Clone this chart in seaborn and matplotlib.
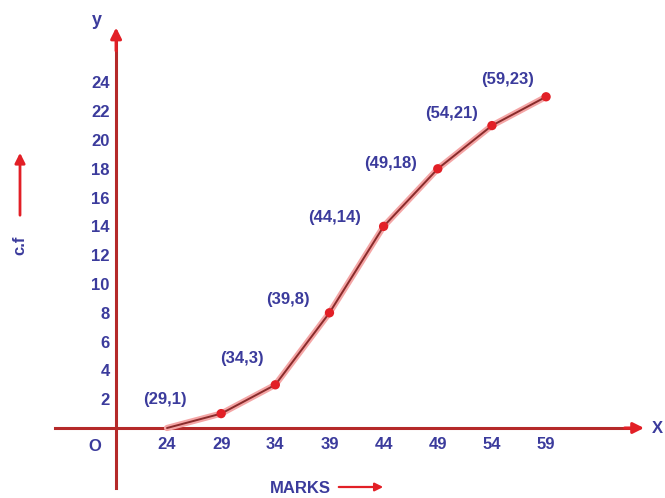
import matplotlib
matplotlib.use("Agg")
import matplotlib.pyplot as plt
import seaborn as sns
import pandas as pd

# Ogive data (upper class limit vs cumulative frequency)
marks = [24, 29, 34, 39, 44, 49, 54, 59]
cum_freq = [0, 1, 3, 8, 14, 18, 21, 23]
x_ticks = [24, 29, 34, 39, 44, 49, 54, 59]
y_ticks = [2, 4, 6, 8, 10, 12, 14, 16, 18, 20, 22, 24]

df = pd.DataFrame({"marks": marks, "cf": cum_freq})
points = df[df["cf"] > 0]

sns.set_style("white")
plt.rcParams["font.family"] = ["Liberation Sans", "DejaVu Sans"]

BLUE = "#3b3b9c"
AXIS_RED = "#b52a2a"
LINE_RED = "#8a2b2b"
DOT_RED = "#e21f26"

fig = plt.figure(figsize=(6.65, 4.98), dpi=100)
ax = fig.add_axes([0, 0, 1, 1])
ax.set_xlim(8.58, 69.98)
ax.set_ylim(-4.86, 29.72)
x0 = 19.3  # where the y axis crosses

# ogive line with a light halo, then the points
sns.lineplot(data=df, x="marks", y="cf", ax=ax, color="#f4a5a5", lw=4.5, zorder=3)
sns.lineplot(data=df, x="marks", y="cf", ax=ax, color=LINE_RED, lw=1.4, zorder=4)
sns.scatterplot(data=points, x="marks", y="cf", ax=ax, color=DOT_RED, s=45,
                edgecolor="none", zorder=5)

# point labels
offsets = [(-34, 14), (-12, 26), (-20, 13), (-23, 9), (-21, 5), (-14, 12), (-12, 17)]
for (mx, cf), (dx, dy) in zip(zip(points["marks"], points["cf"]), offsets):
    ax.annotate(f"({mx},{cf})", (mx, cf), xytext=(dx, dy), textcoords="offset pixels",
                ha="right", va="center", color=BLUE, fontsize=12, fontweight="bold")

# axes through the origin
for side in ["top", "right"]:
    ax.spines[side].set_visible(False)
ax.spines["left"].set_position(("data", x0))
ax.spines["bottom"].set_position(("data", 0))
ax.spines["left"].set_bounds(-4.17, 27.0)
ax.spines["bottom"].set_bounds(13.66, 67.0)
for side in ["left", "bottom"]:
    ax.spines[side].set_color(AXIS_RED)
    ax.spines[side].set_linewidth(2.2)
    ax.spines[side].set_zorder(2)

ax.annotate("", xy=(x0, 28.0), xytext=(x0, 26.0),
            arrowprops=dict(arrowstyle="-|>", color=DOT_RED, lw=2.2, mutation_scale=16))
ax.annotate("", xy=(68.3, 0), xytext=(66.0, 0),
            arrowprops=dict(arrowstyle="-|>", color=DOT_RED, lw=2.2, mutation_scale=16))

ax.set_xticks(x_ticks)
ax.set_xticks([64], minor=True)
ax.set_yticks(y_ticks)
ax.tick_params(axis="x", which="both", direction="inout", length=9, width=1.6,
               color="#2a2a2a", labelcolor=BLUE, labelsize=12, pad=2)
ax.tick_params(axis="y", direction="inout", length=7, width=1.6,
               color="#2a2a2a", labelcolor=BLUE, labelsize=12, pad=1)
for lab in ax.get_xticklabels() + ax.get_yticklabels():
    lab.set_fontweight("bold")
ax.set_xlabel("")
ax.set_ylabel("")

# axis names and side arrows
tf = ax.transAxes
ax.text(97 / 665, 1 - 20 / 498, "y", transform=tf, color=BLUE, fontsize=13,
        fontweight="bold", ha="center", va="center")
ax.text(657 / 665, 1 - 428 / 498, "X", transform=tf, color=BLUE, fontsize=12,
        fontweight="bold", ha="center", va="center")
ax.text(95 / 665, 1 - 446 / 498, "O", transform=tf, color=BLUE, fontsize=12,
        fontweight="bold", ha="center", va="center")
ax.text(20 / 665, 1 - 245 / 498, "c.f", transform=tf, color=BLUE, fontsize=12,
        fontweight="bold", ha="center", va="center", rotation=90)
ax.annotate("", xy=(20 / 665, 1 - 150 / 498), xytext=(20 / 665, 1 - 218 / 498),
            xycoords=tf, textcoords=tf,
            arrowprops=dict(arrowstyle="-|>", color=DOT_RED, lw=2, mutation_scale=15))
ax.text(300 / 665, 1 - 488 / 498, "MARKS", transform=tf, color=BLUE, fontsize=12,
        fontweight="bold", ha="center", va="center")
ax.annotate("", xy=(386 / 665, 1 - 487 / 498), xytext=(336 / 665, 1 - 487 / 498),
            xycoords=tf, textcoords=tf,
            arrowprops=dict(arrowstyle="-|>", color=DOT_RED, lw=1.6, mutation_scale=12))

fig.savefig("out.png", dpi=100)
